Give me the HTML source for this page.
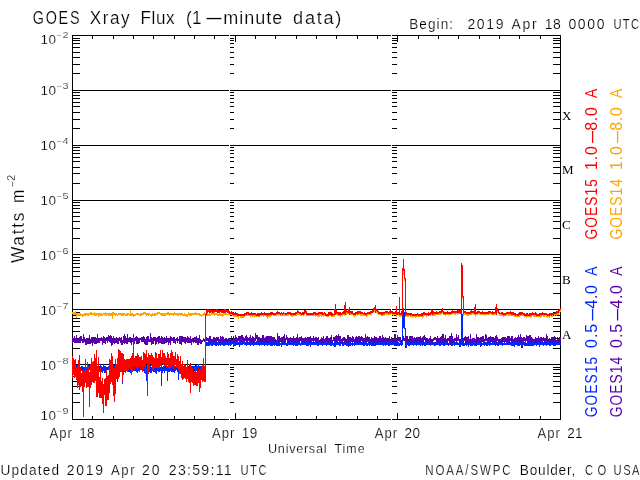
<!DOCTYPE html>
<html lang="en"><head><meta charset="utf-8"><title>GOES Xray Flux (1-minute data)</title>
<style>
html,body{margin:0;padding:0;background:#fff;}
body{width:640px;height:480px;overflow:hidden;}
svg{display:block;will-change:transform;}
text{font-family:"Liberation Sans",sans-serif;stroke:#fff;stroke-width:0.2px;paint-order:fill stroke;}
.ser{font-family:"Liberation Serif",serif;stroke:none;}
text[fill]{stroke:none;}
.ln{shape-rendering:crispEdges;fill:none;}
</style></head><body>
<svg width="640" height="480" viewBox="0 0 640 480">
<rect x="0" y="0" width="640" height="480" fill="#fff"/>
<path class="ln" stroke="#000" stroke-width="1" d="M72 35.5 H561 M72 419.5 H561 M72.5 35 V420 M560.5 35 V420 M72 73.5 H80 M553 73.5 H561 M230 73.5 H234 M392 73.5 H397 M72 64.5 H80 M553 64.5 H561 M230 64.5 H234 M392 64.5 H397 M72 57.5 H80 M553 57.5 H561 M230 57.5 H234 M392 57.5 H397 M72 52.5 H80 M553 52.5 H561 M230 52.5 H234 M392 52.5 H397 M72 47.5 H80 M553 47.5 H561 M230 47.5 H234 M392 47.5 H397 M72 43.5 H80 M553 43.5 H561 M230 43.5 H234 M392 43.5 H397 M72 40.5 H80 M553 40.5 H561 M230 40.5 H234 M392 40.5 H397 M72 38.5 H80 M553 38.5 H561 M230 38.5 H234 M392 38.5 H397 M72 90.5 H561 M72 128.5 H80 M553 128.5 H561 M230 128.5 H234 M392 128.5 H397 M72 119.5 H80 M553 119.5 H561 M230 119.5 H234 M392 119.5 H397 M72 112.5 H80 M553 112.5 H561 M230 112.5 H234 M392 112.5 H397 M72 106.5 H80 M553 106.5 H561 M230 106.5 H234 M392 106.5 H397 M72 102.5 H80 M553 102.5 H561 M230 102.5 H234 M392 102.5 H397 M72 98.5 H80 M553 98.5 H561 M230 98.5 H234 M392 98.5 H397 M72 95.5 H80 M553 95.5 H561 M230 95.5 H234 M392 95.5 H397 M72 92.5 H80 M553 92.5 H561 M230 92.5 H234 M392 92.5 H397 M72 145.5 H561 M72 183.5 H80 M553 183.5 H561 M230 183.5 H234 M392 183.5 H397 M72 173.5 H80 M553 173.5 H561 M230 173.5 H234 M392 173.5 H397 M72 167.5 H80 M553 167.5 H561 M230 167.5 H234 M392 167.5 H397 M72 161.5 H80 M553 161.5 H561 M230 161.5 H234 M392 161.5 H397 M72 157.5 H80 M553 157.5 H561 M230 157.5 H234 M392 157.5 H397 M72 153.5 H80 M553 153.5 H561 M230 153.5 H234 M392 153.5 H397 M72 150.5 H80 M553 150.5 H561 M230 150.5 H234 M392 150.5 H397 M72 147.5 H80 M553 147.5 H561 M230 147.5 H234 M392 147.5 H397 M72 200.5 H561 M72 238.5 H80 M553 238.5 H561 M230 238.5 H234 M392 238.5 H397 M72 228.5 H80 M553 228.5 H561 M230 228.5 H234 M392 228.5 H397 M72 221.5 H80 M553 221.5 H561 M230 221.5 H234 M392 221.5 H397 M72 216.5 H80 M553 216.5 H561 M230 216.5 H234 M392 216.5 H397 M72 212.5 H80 M553 212.5 H561 M230 212.5 H234 M392 212.5 H397 M72 208.5 H80 M553 208.5 H561 M230 208.5 H234 M392 208.5 H397 M72 205.5 H80 M553 205.5 H561 M230 205.5 H234 M392 205.5 H397 M72 202.5 H80 M553 202.5 H561 M230 202.5 H234 M392 202.5 H397 M72 254.5 H561 M72 293.5 H80 M553 293.5 H561 M230 293.5 H234 M392 293.5 H397 M72 283.5 H80 M553 283.5 H561 M230 283.5 H234 M392 283.5 H397 M72 276.5 H80 M553 276.5 H561 M230 276.5 H234 M392 276.5 H397 M72 271.5 H80 M553 271.5 H561 M230 271.5 H234 M392 271.5 H397 M72 267.5 H80 M553 267.5 H561 M230 267.5 H234 M392 267.5 H397 M72 263.5 H80 M553 263.5 H561 M230 263.5 H234 M392 263.5 H397 M72 260.5 H80 M553 260.5 H561 M230 260.5 H234 M392 260.5 H397 M72 257.5 H80 M553 257.5 H561 M230 257.5 H234 M392 257.5 H397 M72 309.5 H561 M72 348.5 H80 M553 348.5 H561 M230 348.5 H234 M392 348.5 H397 M72 338.5 H80 M553 338.5 H561 M230 338.5 H234 M392 338.5 H397 M72 331.5 H80 M553 331.5 H561 M230 331.5 H234 M392 331.5 H397 M72 326.5 H80 M553 326.5 H561 M230 326.5 H234 M392 326.5 H397 M72 321.5 H80 M553 321.5 H561 M230 321.5 H234 M392 321.5 H397 M72 318.5 H80 M553 318.5 H561 M230 318.5 H234 M392 318.5 H397 M72 315.5 H80 M553 315.5 H561 M230 315.5 H234 M392 315.5 H397 M72 312.5 H80 M553 312.5 H561 M230 312.5 H234 M392 312.5 H397 M72 364.5 H561 M72 402.5 H80 M553 402.5 H561 M230 402.5 H234 M392 402.5 H397 M72 393.5 H80 M553 393.5 H561 M230 393.5 H234 M392 393.5 H397 M72 386.5 H80 M553 386.5 H561 M230 386.5 H234 M392 386.5 H397 M72 381.5 H80 M553 381.5 H561 M230 381.5 H234 M392 381.5 H397 M72 376.5 H80 M553 376.5 H561 M230 376.5 H234 M392 376.5 H397 M72 373.5 H80 M553 373.5 H561 M230 373.5 H234 M392 373.5 H397 M72 369.5 H80 M553 369.5 H561 M230 369.5 H234 M392 369.5 H397 M72 367.5 H80 M553 367.5 H561 M230 367.5 H234 M392 367.5 H397 M92.5 35 V39 M92.5 416 V420 M113.5 35 V39 M113.5 416 V420 M133.5 35 V39 M133.5 416 V420 M153.5 35 V39 M153.5 416 V420 M174.5 35 V39 M174.5 416 V420 M194.5 35 V39 M194.5 416 V420 M214.5 35 V39 M214.5 416 V420 M255.5 35 V39 M255.5 416 V420 M275.5 35 V39 M275.5 416 V420 M296.5 35 V39 M296.5 416 V420 M316.5 35 V39 M316.5 416 V420 M336.5 35 V39 M336.5 416 V420 M357.5 35 V39 M357.5 416 V420 M377.5 35 V39 M377.5 416 V420 M418.5 35 V39 M418.5 416 V420 M438.5 35 V39 M438.5 416 V420 M458.5 35 V39 M458.5 416 V420 M479.5 35 V39 M479.5 416 V420 M499.5 35 V39 M499.5 416 V420 M519.5 35 V39 M519.5 416 V420 M540.5 35 V39 M540.5 416 V420 M235.5 35 V42 M235.5 413 V420 M397.5 35 V42 M397.5 413 V420"/>
<path class="ln" stroke="#fff" stroke-width="1" d="M229.5 35 V420 M391.5 35 V420"/>
<path class="ln" stroke="#ffa500" stroke-width="1" d="M72.5 312 V314 M73.5 312 V315 M74.5 312 V315 M75.5 311 V315 M76.5 313 V318 M77.5 313 V316 M78.5 314 V316 M79.5 313 V316 M80.5 313 V316 M81.5 314 V316 M82.5 314 V317 M83.5 314 V316 M84.5 313 V316 M85.5 313 V316 M86.5 313 V315 M87.5 313 V316 M88.5 313 V316 M89.5 313 V315 M90.5 312 V315 M91.5 312 V315 M92.5 313 V315 M93.5 313 V315 M94.5 312 V316 M95.5 313 V316 M96.5 313 V316 M97.5 313 V315 M98.5 313 V317 M99.5 313 V316 M100.5 313 V316 M101.5 313 V316 M102.5 314 V316 M103.5 313 V315 M104.5 313 V315 M105.5 312 V316 M106.5 313 V316 M107.5 313 V315 M108.5 313 V316 M109.5 313 V316 M110.5 313 V316 M111.5 313 V316 M112.5 312 V319 M113.5 312 V315 M114.5 313 V315 M115.5 313 V316 M116.5 313 V315 M117.5 314 V316 M118.5 313 V315 M119.5 313 V315 M120.5 313 V315 M121.5 313 V316 M122.5 313 V316 M123.5 313 V316 M124.5 313 V315 M125.5 314 V316 M126.5 313 V316 M127.5 313 V316 M128.5 313 V315 M129.5 314 V316 M130.5 310 V316 M131.5 313 V316 M132.5 313 V316 M133.5 314 V317 M134.5 314 V316 M135.5 314 V316 M136.5 313 V315 M137.5 313 V315 M138.5 313 V315 M139.5 314 V316 M140.5 313 V316 M141.5 313 V316 M142.5 313 V315 M143.5 312 V315 M144.5 312 V314 M145.5 312 V315 M146.5 313 V316 M147.5 313 V315 M148.5 313 V316 M149.5 313 V315 M150.5 314 V316 M151.5 314 V317 M152.5 313 V316 M153.5 314 V316 M154.5 313 V316 M155.5 313 V316 M156.5 313 V315 M157.5 312 V315 M158.5 312 V314 M159.5 312 V314 M160.5 313 V315 M161.5 313 V316 M162.5 313 V316 M163.5 313 V316 M164.5 313 V316 M165.5 313 V316 M166.5 313 V315 M167.5 312 V315 M168.5 312 V315 M169.5 313 V316 M170.5 313 V315 M171.5 313 V315 M172.5 313 V315 M173.5 313 V316 M174.5 312 V315 M175.5 313 V315 M176.5 313 V315 M177.5 313 V316 M178.5 313 V316 M179.5 313 V315 M180.5 313 V316 M181.5 313 V315 M182.5 313 V316 M183.5 314 V316 M184.5 313 V316 M185.5 314 V316 M186.5 314 V317 M187.5 314 V317 M188.5 312 V315 M189.5 313 V316 M190.5 313 V316 M191.5 313 V316 M192.5 313 V315 M193.5 313 V315 M194.5 313 V315 M195.5 312 V315 M196.5 313 V315 M197.5 313 V315 M198.5 313 V315 M199.5 313 V316 M200.5 314 V316 M201.5 315 V317 M202.5 314 V316 M203.5 313 V316 M204.5 312 V315 M205.5 313 V315 M206.5 313 V316 M207.5 313 V316 M208.5 314 V316 M209.5 313 V316 M210.5 314 V316 M211.5 312 V315 M212.5 312 V315 M213.5 312 V315 M214.5 312 V316 M215.5 313 V315 M216.5 313 V315 M217.5 313 V316 M218.5 314 V316 M219.5 313 V316 M220.5 313 V316 M221.5 314 V316 M222.5 314 V317 M223.5 313 V316 M224.5 313 V315 M225.5 313 V315 M226.5 313 V315 M227.5 314 V315 M228.5 313 V315 M229.5 313 V315 M230.5 312 V315 M231.5 313 V315 M232.5 313 V316 M233.5 314 V317 M234.5 314 V317 M235.5 314 V317 M236.5 314 V317 M237.5 314 V317 M238.5 315 V319 M239.5 315 V316 M240.5 315 V318 M241.5 315 V318 M242.5 315 V318 M243.5 315 V318 M244.5 315 V317 M245.5 314 V316 M246.5 313 V316 M247.5 313 V316 M248.5 314 V316 M249.5 314 V316 M250.5 314 V317 M251.5 314 V316 M252.5 314 V317 M253.5 314 V316 M254.5 314 V317 M255.5 315 V317 M256.5 315 V317 M257.5 315 V317 M258.5 314 V317 M259.5 314 V317 M260.5 314 V316 M261.5 313 V316 M262.5 314 V316 M263.5 314 V317 M264.5 314 V316 M265.5 314 V316 M266.5 315 V317 M267.5 315 V319 M268.5 314 V317 M269.5 314 V317 M270.5 314 V317 M271.5 313 V316 M272.5 313 V315 M273.5 313 V316 M274.5 314 V316 M275.5 314 V316 M276.5 313 V316 M277.5 313 V315 M278.5 314 V316 M279.5 313 V315 M280.5 314 V316 M281.5 313 V316 M282.5 314 V316 M283.5 314 V316 M284.5 314 V316 M285.5 313 V316 M286.5 313 V316 M287.5 313 V316 M288.5 314 V316 M289.5 313 V315 M290.5 313 V316 M291.5 314 V317 M292.5 314 V317 M293.5 314 V316 M294.5 313 V316 M295.5 314 V316 M296.5 313 V316 M297.5 312 V315 M298.5 312 V315 M299.5 313 V315 M300.5 313 V316 M301.5 314 V316 M302.5 313 V315 M303.5 313 V316 M304.5 312 V315 M305.5 312 V314 M306.5 313 V316 M307.5 314 V316 M308.5 314 V316 M309.5 313 V316 M310.5 314 V316 M311.5 314 V316 M312.5 314 V316 M313.5 314 V316 M314.5 313 V316 M315.5 313 V317 M316.5 314 V316 M317.5 314 V317 M318.5 313 V317 M319.5 314 V317 M320.5 313 V316 M321.5 314 V317 M322.5 314 V316 M323.5 314 V317 M324.5 313 V316 M325.5 313 V316 M326.5 314 V317 M327.5 315 V317 M328.5 313 V317 M329.5 313 V316 M330.5 313 V316 M331.5 314 V317 M332.5 315 V317 M333.5 314 V317 M334.5 311 V317 M335.5 306 V312 M336.5 311 V315 M337.5 314 V316 M338.5 314 V316 M339.5 314 V316 M340.5 314 V317 M341.5 314 V316 M342.5 313 V316 M343.5 313 V315 M344.5 306 V316 M345.5 304 V313 M346.5 312 V315 M347.5 312 V314 M348.5 310 V314 M349.5 309 V314 M350.5 312 V315 M351.5 312 V315 M352.5 313 V315 M353.5 314 V316 M354.5 314 V317 M355.5 314 V316 M356.5 312 V315 M357.5 312 V316 M358.5 312 V315 M359.5 312 V315 M360.5 313 V316 M361.5 314 V316 M362.5 313 V316 M363.5 314 V316 M364.5 314 V316 M365.5 314 V316 M366.5 314 V317 M367.5 314 V316 M368.5 313 V315 M369.5 313 V315 M370.5 313 V315 M371.5 312 V315 M372.5 311 V313 M373.5 310 V313 M374.5 309 V312 M375.5 307 V311 M376.5 309 V313 M377.5 311 V314 M378.5 312 V315 M379.5 313 V315 M380.5 313 V315 M381.5 314 V316 M382.5 313 V316 M383.5 313 V316 M384.5 313 V316 M385.5 312 V315 M386.5 312 V315 M387.5 312 V315 M388.5 313 V315 M389.5 313 V315 M390.5 312 V315 M391.5 312 V314 M392.5 313 V315 M393.5 313 V316 M394.5 313 V315 M395.5 312 V315 M396.5 308 V317 M397.5 313 V315 M398.5 313 V316 M399.5 299 V317 M400.5 314 V317 M401.5 314 V316 M402.5 271 V317 M403.5 262 V275 M404.5 272 V281 M405.5 280 V317 M406.5 314 V317 M407.5 314 V317 M408.5 314 V317 M409.5 314 V316 M410.5 315 V317 M411.5 314 V317 M412.5 314 V318 M413.5 315 V317 M414.5 314 V317 M415.5 315 V318 M416.5 315 V317 M417.5 314 V317 M418.5 315 V317 M419.5 315 V317 M420.5 315 V317 M421.5 314 V317 M422.5 314 V318 M423.5 314 V317 M424.5 314 V316 M425.5 314 V316 M426.5 314 V317 M427.5 314 V316 M428.5 314 V316 M429.5 314 V316 M430.5 313 V316 M431.5 310 V315 M432.5 311 V316 M433.5 313 V316 M434.5 313 V316 M435.5 313 V316 M436.5 313 V315 M437.5 312 V315 M438.5 312 V315 M439.5 312 V315 M440.5 312 V315 M441.5 311 V314 M442.5 309 V314 M443.5 313 V315 M444.5 313 V315 M445.5 313 V316 M446.5 313 V315 M447.5 313 V315 M448.5 313 V315 M449.5 314 V316 M450.5 313 V315 M451.5 312 V315 M452.5 312 V314 M453.5 312 V314 M454.5 312 V315 M455.5 312 V315 M456.5 312 V314 M457.5 312 V315 M458.5 311 V314 M459.5 312 V314 M460.5 311 V314 M461.5 266 V316 M462.5 267 V299 M463.5 298 V316 M464.5 312 V315 M465.5 312 V315 M466.5 313 V315 M467.5 313 V316 M468.5 313 V316 M469.5 312 V315 M470.5 313 V315 M471.5 312 V315 M472.5 312 V314 M473.5 311 V315 M474.5 312 V315 M475.5 306 V317 M476.5 313 V315 M477.5 312 V315 M478.5 312 V314 M479.5 312 V315 M480.5 312 V315 M481.5 313 V315 M482.5 312 V315 M483.5 312 V315 M484.5 313 V316 M485.5 313 V315 M486.5 313 V315 M487.5 313 V315 M488.5 312 V315 M489.5 312 V315 M490.5 312 V314 M491.5 313 V315 M492.5 312 V315 M493.5 313 V316 M494.5 313 V315 M495.5 309 V315 M496.5 306 V310 M497.5 309 V313 M498.5 310 V314 M499.5 313 V316 M500.5 313 V316 M501.5 313 V316 M502.5 313 V316 M503.5 314 V317 M504.5 314 V316 M505.5 314 V316 M506.5 313 V316 M507.5 313 V316 M508.5 313 V316 M509.5 313 V316 M510.5 313 V316 M511.5 313 V316 M512.5 314 V316 M513.5 314 V316 M514.5 314 V317 M515.5 314 V317 M516.5 315 V317 M517.5 314 V317 M518.5 314 V317 M519.5 314 V317 M520.5 314 V316 M521.5 313 V316 M522.5 313 V316 M523.5 313 V316 M524.5 315 V317 M525.5 315 V317 M526.5 315 V318 M527.5 314 V317 M528.5 314 V317 M529.5 314 V317 M530.5 315 V318 M531.5 314 V317 M532.5 314 V316 M533.5 314 V317 M534.5 313 V317 M535.5 314 V317 M536.5 314 V317 M537.5 314 V317 M538.5 315 V317 M539.5 314 V317 M540.5 314 V318 M541.5 314 V317 M542.5 314 V316 M543.5 314 V317 M544.5 314 V317 M545.5 314 V316 M546.5 315 V317 M547.5 315 V318 M548.5 315 V317 M549.5 314 V318 M550.5 314 V316 M551.5 314 V317 M552.5 314 V317 M553.5 314 V316 M554.5 314 V316 M555.5 313 V315 M556.5 313 V316 M557.5 312 V315 M558.5 311 V315 M559.5 310 V313 M560.5 309 V312"/>
<path class="ln" stroke="#5a00aa" stroke-width="1" d="M72.5 338 V343 M73.5 338 V342 M74.5 336 V343 M75.5 338 V343 M76.5 335 V343 M77.5 339 V343 M78.5 338 V343 M79.5 337 V343 M80.5 336 V343 M81.5 336 V341 M82.5 339 V343 M83.5 334 V343 M84.5 337 V342 M85.5 339 V345 M86.5 338 V345 M87.5 338 V344 M88.5 338 V344 M89.5 335 V344 M90.5 339 V344 M91.5 337 V343 M92.5 337 V346 M93.5 337 V343 M94.5 337 V344 M95.5 337 V344 M96.5 338 V344 M97.5 334 V343 M98.5 338 V343 M99.5 338 V343 M100.5 338 V341 M101.5 337 V341 M102.5 338 V345 M103.5 336 V343 M104.5 337 V343 M105.5 338 V344 M106.5 337 V341 M107.5 337 V343 M108.5 335 V341 M109.5 336 V342 M110.5 335 V343 M111.5 336 V346 M112.5 338 V345 M113.5 336 V343 M114.5 338 V344 M115.5 338 V343 M116.5 337 V343 M117.5 338 V344 M118.5 338 V344 M119.5 337 V341 M120.5 338 V343 M121.5 337 V345 M122.5 340 V345 M123.5 336 V343 M124.5 334 V344 M125.5 336 V343 M126.5 338 V344 M127.5 334 V344 M128.5 338 V342 M129.5 337 V342 M130.5 337 V343 M131.5 338 V345 M132.5 338 V342 M133.5 334 V343 M134.5 338 V344 M135.5 337 V341 M136.5 336 V344 M137.5 337 V344 M138.5 338 V344 M139.5 338 V343 M140.5 338 V340 M141.5 337 V342 M142.5 337 V342 M143.5 336 V342 M144.5 337 V344 M145.5 339 V345 M146.5 337 V345 M147.5 336 V345 M148.5 336 V342 M149.5 339 V342 M150.5 333 V342 M151.5 337 V345 M152.5 338 V344 M153.5 337 V344 M154.5 337 V341 M155.5 337 V345 M156.5 338 V344 M157.5 337 V342 M158.5 336 V344 M159.5 336 V343 M160.5 338 V343 M161.5 336 V344 M162.5 337 V344 M163.5 338 V344 M164.5 337 V344 M165.5 338 V343 M166.5 336 V343 M167.5 338 V342 M168.5 338 V345 M169.5 338 V343 M170.5 336 V345 M171.5 337 V341 M172.5 338 V341 M173.5 337 V343 M174.5 337 V343 M175.5 339 V344 M176.5 338 V341 M177.5 337 V343 M178.5 339 V341 M179.5 336 V344 M180.5 336 V344 M181.5 336 V345 M182.5 336 V342 M183.5 337 V342 M184.5 337 V343 M185.5 337 V344 M186.5 338 V342 M187.5 336 V343 M188.5 337 V343 M189.5 338 V343 M190.5 336 V343 M191.5 339 V345 M192.5 338 V342 M193.5 338 V343 M194.5 337 V342 M195.5 337 V343 M196.5 336 V343 M197.5 338 V345 M198.5 338 V345 M199.5 335 V343 M200.5 339 V344 M201.5 340 V344 M202.5 340 V342 M203.5 338 V341 M204.5 339 V342 M205.5 336 V343 M206.5 337 V341 M207.5 338 V341 M208.5 338 V344 M209.5 336 V342 M210.5 336 V342 M211.5 339 V345 M212.5 339 V344 M213.5 337 V344 M214.5 337 V342 M215.5 338 V343 M216.5 337 V343 M217.5 337 V341 M218.5 337 V345 M219.5 339 V345 M220.5 336 V344 M221.5 337 V342 M222.5 336 V342 M223.5 337 V342 M224.5 339 V344 M225.5 338 V344 M226.5 338 V345 M227.5 339 V342 M228.5 338 V343 M229.5 338 V345 M230.5 339 V345 M231.5 336 V342 M232.5 339 V344 M233.5 336 V344 M234.5 338 V344 M235.5 335 V342 M236.5 337 V344 M237.5 338 V343 M238.5 336 V341 M239.5 336 V347 M240.5 336 V342 M241.5 335 V343 M242.5 335 V343 M243.5 337 V342 M244.5 338 V343 M245.5 336 V341 M246.5 335 V342 M247.5 337 V342 M248.5 338 V341 M249.5 337 V343 M250.5 335 V345 M251.5 338 V345 M252.5 336 V343 M253.5 337 V343 M254.5 338 V343 M255.5 333 V341 M256.5 335 V339 M257.5 335 V342 M258.5 337 V343 M259.5 337 V344 M260.5 338 V344 M261.5 338 V344 M262.5 335 V343 M263.5 335 V344 M264.5 338 V342 M265.5 337 V343 M266.5 336 V343 M267.5 336 V345 M268.5 336 V345 M269.5 336 V343 M270.5 336 V343 M271.5 336 V343 M272.5 337 V344 M273.5 337 V343 M274.5 337 V342 M275.5 339 V344 M276.5 340 V344 M277.5 333 V342 M278.5 336 V344 M279.5 336 V342 M280.5 338 V342 M281.5 337 V345 M282.5 337 V345 M283.5 336 V342 M284.5 334 V343 M285.5 338 V343 M286.5 335 V340 M287.5 337 V344 M288.5 338 V343 M289.5 338 V343 M290.5 337 V344 M291.5 338 V344 M292.5 338 V342 M293.5 336 V343 M294.5 338 V343 M295.5 338 V343 M296.5 337 V345 M297.5 334 V343 M298.5 338 V343 M299.5 337 V343 M300.5 337 V341 M301.5 336 V344 M302.5 338 V343 M303.5 338 V344 M304.5 338 V342 M305.5 337 V342 M306.5 338 V344 M307.5 337 V342 M308.5 337 V344 M309.5 337 V344 M310.5 336 V347 M311.5 338 V343 M312.5 338 V341 M313.5 336 V344 M314.5 338 V341 M315.5 337 V344 M316.5 337 V342 M317.5 338 V342 M318.5 337 V343 M319.5 340 V343 M320.5 339 V345 M321.5 337 V345 M322.5 338 V345 M323.5 336 V344 M324.5 339 V342 M325.5 338 V342 M326.5 336 V343 M327.5 336 V344 M328.5 338 V344 M329.5 338 V344 M330.5 337 V343 M331.5 335 V343 M332.5 340 V344 M333.5 337 V341 M334.5 337 V342 M335.5 336 V344 M336.5 335 V345 M337.5 336 V343 M338.5 334 V341 M339.5 336 V345 M340.5 336 V345 M341.5 339 V344 M342.5 338 V345 M343.5 337 V341 M344.5 337 V343 M345.5 338 V342 M346.5 339 V344 M347.5 335 V343 M348.5 335 V347 M349.5 337 V345 M350.5 337 V344 M351.5 338 V342 M352.5 336 V342 M353.5 337 V342 M354.5 339 V342 M355.5 337 V343 M356.5 336 V344 M357.5 337 V343 M358.5 336 V342 M359.5 336 V342 M360.5 337 V343 M361.5 336 V341 M362.5 337 V342 M363.5 338 V344 M364.5 338 V344 M365.5 334 V344 M366.5 337 V344 M367.5 336 V342 M368.5 337 V344 M369.5 337 V344 M370.5 339 V344 M371.5 337 V344 M372.5 338 V345 M373.5 338 V345 M374.5 336 V344 M375.5 337 V345 M376.5 337 V342 M377.5 338 V342 M378.5 338 V343 M379.5 336 V344 M380.5 336 V342 M381.5 338 V342 M382.5 335 V343 M383.5 337 V346 M384.5 338 V344 M385.5 337 V343 M386.5 338 V343 M387.5 338 V344 M388.5 338 V342 M389.5 336 V342 M390.5 339 V343 M391.5 337 V344 M392.5 339 V344 M393.5 338 V342 M394.5 334 V343 M395.5 334 V346 M396.5 339 V346 M397.5 335 V342 M398.5 337 V341 M399.5 337 V342 M400.5 337 V344 M401.5 340 V343 M402.5 339 V344 M403.5 336 V341 M404.5 338 V341 M405.5 338 V342 M406.5 336 V345 M407.5 336 V342 M408.5 339 V344 M409.5 336 V342 M410.5 336 V342 M411.5 336 V344 M412.5 336 V342 M413.5 338 V343 M414.5 337 V345 M415.5 338 V345 M416.5 337 V342 M417.5 337 V344 M418.5 337 V342 M419.5 337 V342 M420.5 336 V343 M421.5 338 V343 M422.5 337 V346 M423.5 336 V344 M424.5 335 V340 M425.5 337 V345 M426.5 338 V343 M427.5 338 V343 M428.5 339 V343 M429.5 338 V344 M430.5 336 V345 M431.5 339 V342 M432.5 339 V344 M433.5 338 V341 M434.5 337 V340 M435.5 337 V340 M436.5 338 V343 M437.5 336 V343 M438.5 338 V344 M439.5 338 V344 M440.5 337 V344 M441.5 336 V345 M442.5 334 V343 M443.5 334 V346 M444.5 338 V342 M445.5 335 V344 M446.5 339 V344 M447.5 338 V344 M448.5 338 V341 M449.5 336 V344 M450.5 336 V345 M451.5 333 V342 M452.5 336 V344 M453.5 339 V344 M454.5 338 V342 M455.5 338 V341 M456.5 334 V344 M457.5 337 V341 M458.5 335 V341 M459.5 339 V343 M460.5 339 V343 M461.5 338 V343 M462.5 335 V343 M463.5 338 V343 M464.5 337 V341 M465.5 336 V343 M466.5 337 V343 M467.5 337 V344 M468.5 336 V343 M469.5 339 V343 M470.5 334 V343 M471.5 339 V343 M472.5 338 V342 M473.5 338 V344 M474.5 338 V344 M475.5 339 V343 M476.5 334 V343 M477.5 337 V345 M478.5 337 V342 M479.5 338 V345 M480.5 337 V347 M481.5 337 V343 M482.5 336 V342 M483.5 336 V343 M484.5 339 V343 M485.5 334 V341 M486.5 335 V341 M487.5 338 V342 M488.5 337 V343 M489.5 337 V342 M490.5 336 V344 M491.5 337 V342 M492.5 337 V344 M493.5 337 V344 M494.5 338 V344 M495.5 336 V344 M496.5 335 V343 M497.5 337 V341 M498.5 339 V344 M499.5 339 V343 M500.5 339 V343 M501.5 338 V342 M502.5 337 V344 M503.5 337 V342 M504.5 337 V344 M505.5 337 V342 M506.5 338 V344 M507.5 336 V344 M508.5 336 V344 M509.5 336 V344 M510.5 338 V341 M511.5 336 V342 M512.5 336 V341 M513.5 339 V343 M514.5 338 V343 M515.5 337 V344 M516.5 338 V344 M517.5 337 V344 M518.5 335 V344 M519.5 337 V346 M520.5 334 V344 M521.5 337 V348 M522.5 338 V348 M523.5 337 V343 M524.5 337 V341 M525.5 338 V343 M526.5 335 V341 M527.5 336 V344 M528.5 336 V342 M529.5 335 V343 M530.5 335 V341 M531.5 337 V346 M532.5 338 V345 M533.5 339 V345 M534.5 339 V344 M535.5 337 V344 M536.5 338 V342 M537.5 338 V342 M538.5 336 V344 M539.5 338 V342 M540.5 337 V345 M541.5 337 V344 M542.5 338 V342 M543.5 337 V341 M544.5 338 V345 M545.5 338 V344 M546.5 334 V342 M547.5 336 V342 M548.5 339 V342 M549.5 338 V342 M550.5 339 V342 M551.5 337 V342 M552.5 337 V343 M553.5 337 V342 M554.5 336 V345 M555.5 337 V343 M556.5 340 V343 M557.5 337 V343 M558.5 339 V345 M559.5 337 V343 M560.5 337 V342"/>
<path class="ln" stroke="#0028ff" stroke-width="1" d="M72.5 366 V373 M73.5 364 V371 M74.5 366 V372 M75.5 366 V371 M76.5 365 V373 M77.5 366 V373 M78.5 365 V372 M79.5 365 V371 M80.5 367 V372 M81.5 366 V371 M82.5 366 V372 M83.5 367 V372 M84.5 367 V372 M85.5 365 V372 M86.5 367 V371 M87.5 367 V372 M88.5 365 V385 M89.5 365 V370 M90.5 366 V372 M91.5 367 V375 M92.5 366 V372 M93.5 365 V371 M94.5 366 V371 M95.5 367 V373 M96.5 364 V373 M97.5 366 V372 M98.5 366 V373 M99.5 366 V372 M100.5 364 V372 M101.5 366 V372 M102.5 367 V373 M103.5 364 V371 M104.5 366 V373 M105.5 366 V373 M106.5 367 V373 M107.5 367 V370 M108.5 366 V370 M109.5 367 V371 M110.5 366 V371 M111.5 365 V371 M112.5 366 V373 M113.5 365 V373 M114.5 365 V372 M115.5 367 V372 M116.5 365 V372 M117.5 366 V382 M118.5 367 V373 M119.5 366 V370 M120.5 366 V372 M121.5 366 V371 M122.5 366 V384 M123.5 366 V373 M124.5 365 V372 M125.5 366 V372 M126.5 364 V371 M127.5 364 V369 M128.5 366 V372 M129.5 366 V372 M130.5 366 V373 M131.5 368 V373 M132.5 367 V372 M133.5 366 V371 M134.5 365 V371 M135.5 365 V371 M136.5 364 V372 M137.5 365 V373 M138.5 364 V371 M139.5 366 V372 M140.5 366 V370 M141.5 366 V370 M142.5 366 V369 M143.5 366 V371 M144.5 366 V373 M145.5 365 V372 M146.5 365 V381 M147.5 363 V371 M148.5 366 V372 M149.5 367 V372 M150.5 365 V373 M151.5 367 V373 M152.5 366 V371 M153.5 367 V372 M154.5 365 V372 M155.5 365 V373 M156.5 366 V374 M157.5 366 V371 M158.5 366 V372 M159.5 365 V372 M160.5 367 V371 M161.5 365 V386 M162.5 367 V373 M163.5 366 V371 M164.5 366 V373 M165.5 365 V371 M166.5 366 V371 M167.5 366 V381 M168.5 365 V372 M169.5 366 V372 M170.5 366 V371 M171.5 365 V372 M172.5 365 V372 M173.5 366 V372 M174.5 366 V373 M175.5 366 V371 M176.5 366 V370 M177.5 366 V372 M178.5 366 V380 M179.5 365 V372 M180.5 365 V371 M181.5 365 V372 M182.5 365 V371 M183.5 366 V374 M184.5 365 V372 M185.5 365 V372 M186.5 367 V372 M187.5 364 V371 M188.5 368 V371 M189.5 364 V370 M190.5 366 V372 M191.5 366 V371 M192.5 366 V372 M193.5 366 V373 M194.5 366 V371 M195.5 365 V371 M196.5 365 V371 M197.5 366 V372 M198.5 364 V372 M199.5 366 V374 M200.5 366 V372 M201.5 366 V372 M202.5 366 V372 M203.5 366 V374 M204.5 367 V373 M205.5 345 V372 M206.5 342 V346 M207.5 342 V346 M208.5 342 V346 M209.5 342 V346 M210.5 342 V345 M211.5 341 V346 M212.5 342 V346 M213.5 342 V345 M214.5 342 V345 M215.5 342 V346 M216.5 342 V346 M217.5 342 V345 M218.5 343 V346 M219.5 342 V344 M220.5 341 V346 M221.5 342 V345 M222.5 342 V345 M223.5 342 V346 M224.5 342 V346 M225.5 342 V345 M226.5 342 V345 M227.5 342 V345 M228.5 342 V346 M229.5 342 V345 M230.5 342 V346 M231.5 342 V345 M232.5 340 V344 M233.5 342 V347 M234.5 342 V346 M235.5 342 V346 M236.5 342 V345 M237.5 342 V345 M238.5 342 V345 M239.5 342 V345 M240.5 342 V345 M241.5 342 V345 M242.5 341 V345 M243.5 341 V344 M244.5 341 V345 M245.5 342 V345 M246.5 342 V346 M247.5 342 V345 M248.5 342 V345 M249.5 342 V345 M250.5 342 V346 M251.5 342 V345 M252.5 343 V345 M253.5 343 V346 M254.5 342 V345 M255.5 342 V345 M256.5 341 V345 M257.5 342 V345 M258.5 342 V345 M259.5 341 V346 M260.5 342 V345 M261.5 342 V345 M262.5 341 V345 M263.5 342 V345 M264.5 342 V346 M265.5 342 V345 M266.5 342 V345 M267.5 343 V346 M268.5 342 V345 M269.5 342 V345 M270.5 342 V346 M271.5 341 V346 M272.5 341 V346 M273.5 342 V345 M274.5 341 V346 M275.5 342 V345 M276.5 342 V346 M277.5 341 V346 M278.5 342 V346 M279.5 342 V346 M280.5 343 V345 M281.5 341 V347 M282.5 342 V345 M283.5 342 V345 M284.5 342 V345 M285.5 342 V345 M286.5 343 V346 M287.5 341 V346 M288.5 342 V345 M289.5 342 V345 M290.5 342 V345 M291.5 342 V345 M292.5 341 V345 M293.5 342 V346 M294.5 342 V345 M295.5 342 V346 M296.5 341 V346 M297.5 341 V346 M298.5 342 V345 M299.5 342 V345 M300.5 343 V346 M301.5 342 V345 M302.5 342 V345 M303.5 342 V345 M304.5 342 V345 M305.5 342 V345 M306.5 342 V346 M307.5 342 V346 M308.5 342 V346 M309.5 343 V345 M310.5 342 V345 M311.5 342 V345 M312.5 342 V345 M313.5 342 V345 M314.5 342 V345 M315.5 343 V345 M316.5 342 V345 M317.5 342 V346 M318.5 342 V346 M319.5 342 V345 M320.5 342 V345 M321.5 342 V345 M322.5 343 V346 M323.5 342 V345 M324.5 342 V345 M325.5 342 V345 M326.5 342 V346 M327.5 342 V345 M328.5 343 V345 M329.5 342 V345 M330.5 342 V346 M331.5 342 V346 M332.5 342 V345 M333.5 343 V346 M334.5 342 V347 M335.5 342 V347 M336.5 342 V345 M337.5 342 V345 M338.5 342 V345 M339.5 342 V346 M340.5 341 V346 M341.5 341 V344 M342.5 342 V346 M343.5 342 V346 M344.5 343 V345 M345.5 342 V345 M346.5 343 V346 M347.5 342 V346 M348.5 342 V346 M349.5 342 V346 M350.5 342 V346 M351.5 343 V345 M352.5 342 V346 M353.5 343 V345 M354.5 342 V346 M355.5 342 V345 M356.5 342 V345 M357.5 343 V345 M358.5 341 V345 M359.5 342 V345 M360.5 342 V345 M361.5 342 V345 M362.5 341 V345 M363.5 342 V346 M364.5 342 V346 M365.5 342 V345 M366.5 342 V346 M367.5 343 V346 M368.5 342 V345 M369.5 341 V346 M370.5 341 V345 M371.5 342 V346 M372.5 342 V346 M373.5 343 V346 M374.5 343 V346 M375.5 342 V346 M376.5 342 V345 M377.5 342 V345 M378.5 342 V345 M379.5 343 V345 M380.5 342 V345 M381.5 342 V345 M382.5 342 V345 M383.5 342 V346 M384.5 341 V345 M385.5 343 V346 M386.5 342 V345 M387.5 341 V345 M388.5 341 V346 M389.5 342 V346 M390.5 342 V345 M391.5 341 V345 M392.5 342 V345 M393.5 342 V345 M394.5 343 V346 M395.5 342 V345 M396.5 342 V346 M397.5 341 V346 M398.5 342 V346 M399.5 343 V346 M400.5 342 V345 M401.5 342 V346 M402.5 310 V345 M403.5 308 V328 M404.5 312 V329 M405.5 328 V348 M406.5 343 V348 M407.5 342 V345 M408.5 342 V346 M409.5 342 V346 M410.5 341 V345 M411.5 343 V345 M412.5 342 V345 M413.5 341 V346 M414.5 342 V345 M415.5 342 V345 M416.5 342 V346 M417.5 342 V345 M418.5 341 V345 M419.5 342 V345 M420.5 342 V346 M421.5 343 V345 M422.5 341 V345 M423.5 342 V345 M424.5 342 V346 M425.5 341 V346 M426.5 342 V345 M427.5 342 V345 M428.5 342 V345 M429.5 342 V345 M430.5 343 V346 M431.5 342 V345 M432.5 343 V345 M433.5 342 V345 M434.5 342 V346 M435.5 342 V346 M436.5 342 V345 M437.5 342 V345 M438.5 343 V345 M439.5 342 V346 M440.5 342 V346 M441.5 341 V345 M442.5 341 V345 M443.5 343 V346 M444.5 342 V346 M445.5 342 V345 M446.5 342 V345 M447.5 341 V345 M448.5 343 V346 M449.5 342 V345 M450.5 343 V344 M451.5 342 V346 M452.5 342 V346 M453.5 342 V345 M454.5 342 V346 M455.5 342 V345 M456.5 342 V345 M457.5 342 V345 M458.5 343 V345 M459.5 343 V347 M460.5 342 V347 M461.5 311 V345 M462.5 314 V346 M463.5 342 V346 M464.5 343 V346 M465.5 343 V345 M466.5 343 V346 M467.5 343 V345 M468.5 342 V347 M469.5 342 V345 M470.5 343 V346 M471.5 342 V346 M472.5 342 V346 M473.5 342 V345 M474.5 342 V346 M475.5 342 V346 M476.5 343 V346 M477.5 342 V345 M478.5 342 V345 M479.5 342 V345 M480.5 342 V345 M481.5 342 V346 M482.5 343 V345 M483.5 342 V345 M484.5 342 V346 M485.5 342 V345 M486.5 342 V346 M487.5 341 V346 M488.5 342 V345 M489.5 342 V346 M490.5 342 V345 M491.5 343 V345 M492.5 342 V345 M493.5 342 V345 M494.5 342 V345 M495.5 342 V346 M496.5 343 V345 M497.5 342 V346 M498.5 342 V346 M499.5 343 V345 M500.5 342 V345 M501.5 342 V345 M502.5 342 V346 M503.5 343 V345 M504.5 343 V345 M505.5 343 V345 M506.5 342 V345 M507.5 343 V345 M508.5 343 V345 M509.5 343 V345 M510.5 342 V345 M511.5 342 V346 M512.5 341 V346 M513.5 342 V346 M514.5 342 V347 M515.5 341 V345 M516.5 342 V345 M517.5 342 V346 M518.5 342 V346 M519.5 342 V345 M520.5 342 V345 M521.5 342 V345 M522.5 343 V346 M523.5 342 V345 M524.5 342 V346 M525.5 342 V346 M526.5 343 V346 M527.5 342 V346 M528.5 341 V346 M529.5 343 V346 M530.5 341 V346 M531.5 342 V345 M532.5 342 V346 M533.5 341 V346 M534.5 341 V345 M535.5 342 V345 M536.5 342 V346 M537.5 342 V345 M538.5 342 V345 M539.5 342 V347 M540.5 342 V345 M541.5 342 V345 M542.5 342 V345 M543.5 342 V346 M544.5 342 V345 M545.5 343 V345 M546.5 342 V346 M547.5 341 V345 M548.5 342 V345 M549.5 342 V346 M550.5 342 V346 M551.5 342 V345 M552.5 342 V345 M553.5 342 V346 M554.5 342 V346 M555.5 342 V346 M556.5 342 V345 M557.5 342 V345 M558.5 343 V345 M559.5 342 V345 M560.5 343 V345"/>
<path class="ln" stroke="#ff0000" stroke-width="1" d="M72.5 356 V378 M73.5 358 V375 M74.5 360 V378 M75.5 359 V377 M76.5 368 V380 M77.5 365 V388 M78.5 360 V385 M79.5 355 V390 M80.5 368 V387 M81.5 373 V386 M82.5 370 V392 M83.5 370 V417 M84.5 371 V387 M85.5 359 V383 M86.5 370 V388 M87.5 362 V387 M88.5 367 V387 M89.5 372 V407 M90.5 364 V388 M91.5 358 V385 M92.5 362 V382 M93.5 361 V383 M94.5 354 V383 M95.5 358 V381 M96.5 350 V397 M97.5 367 V397 M98.5 357 V393 M99.5 377 V398 M100.5 367 V398 M101.5 381 V398 M102.5 378 V404 M103.5 384 V413 M104.5 379 V395 M105.5 378 V406 M106.5 370 V406 M107.5 376 V400 M108.5 375 V400 M109.5 359 V393 M110.5 360 V384 M111.5 353 V382 M112.5 356 V385 M113.5 368 V396 M114.5 368 V402 M115.5 359 V394 M116.5 364 V379 M117.5 358 V375 M118.5 349 V379 M119.5 350 V377 M120.5 351 V372 M121.5 353 V372 M122.5 353 V381 M123.5 354 V375 M124.5 359 V371 M125.5 360 V373 M126.5 359 V371 M127.5 359 V372 M128.5 359 V370 M129.5 359 V368 M130.5 358 V370 M131.5 356 V375 M132.5 353 V372 M133.5 337 V367 M134.5 358 V370 M135.5 356 V367 M136.5 356 V368 M137.5 353 V370 M138.5 355 V367 M139.5 357 V368 M140.5 357 V370 M141.5 356 V366 M142.5 360 V372 M143.5 352 V369 M144.5 353 V367 M145.5 354 V374 M146.5 350 V364 M147.5 357 V396 M148.5 353 V374 M149.5 355 V369 M150.5 355 V364 M151.5 353 V366 M152.5 355 V370 M153.5 357 V370 M154.5 358 V368 M155.5 352 V368 M156.5 353 V368 M157.5 358 V368 M158.5 354 V367 M159.5 354 V368 M160.5 350 V366 M161.5 357 V366 M162.5 350 V364 M163.5 353 V365 M164.5 353 V366 M165.5 356 V366 M166.5 358 V368 M167.5 352 V364 M168.5 354 V368 M169.5 358 V369 M170.5 353 V368 M171.5 350 V368 M172.5 352 V365 M173.5 356 V367 M174.5 356 V369 M175.5 352 V365 M176.5 359 V368 M177.5 354 V368 M178.5 356 V370 M179.5 361 V374 M180.5 356 V374 M181.5 364 V378 M182.5 361 V380 M183.5 367 V379 M184.5 364 V378 M185.5 366 V379 M186.5 367 V382 M187.5 360 V379 M188.5 366 V382 M189.5 370 V383 M190.5 363 V393 M191.5 367 V382 M192.5 368 V383 M193.5 373 V386 M194.5 371 V385 M195.5 367 V385 M196.5 372 V386 M197.5 372 V386 M198.5 367 V383 M199.5 370 V392 M200.5 369 V388 M201.5 366 V380 M202.5 365 V382 M203.5 358 V381 M204.5 366 V382 M205.5 314 V382 M206.5 310 V315 M207.5 309 V313 M208.5 309 V312 M209.5 310 V313 M210.5 309 V313 M211.5 310 V312 M212.5 310 V313 M213.5 310 V313 M214.5 309 V312 M215.5 310 V312 M216.5 309 V312 M217.5 309 V313 M218.5 310 V313 M219.5 310 V313 M220.5 310 V312 M221.5 310 V313 M222.5 310 V313 M223.5 310 V313 M224.5 309 V313 M225.5 309 V313 M226.5 310 V312 M227.5 310 V313 M228.5 310 V313 M229.5 311 V314 M230.5 312 V314 M231.5 311 V314 M232.5 312 V315 M233.5 313 V315 M234.5 313 V315 M235.5 312 V315 M236.5 313 V315 M237.5 313 V316 M238.5 314 V316 M239.5 314 V316 M240.5 314 V316 M241.5 314 V316 M242.5 314 V316 M243.5 314 V316 M244.5 313 V316 M245.5 313 V315 M246.5 312 V315 M247.5 312 V314 M248.5 312 V315 M249.5 313 V315 M250.5 313 V315 M251.5 312 V315 M252.5 313 V315 M253.5 313 V315 M254.5 313 V315 M255.5 313 V315 M256.5 314 V316 M257.5 313 V316 M258.5 313 V316 M259.5 313 V316 M260.5 313 V315 M261.5 312 V315 M262.5 313 V315 M263.5 313 V315 M264.5 312 V315 M265.5 313 V315 M266.5 313 V315 M267.5 313 V316 M268.5 313 V315 M269.5 313 V315 M270.5 312 V315 M271.5 312 V315 M272.5 312 V315 M273.5 313 V315 M274.5 313 V315 M275.5 313 V315 M276.5 312 V314 M277.5 311 V314 M278.5 312 V314 M279.5 312 V314 M280.5 313 V315 M281.5 312 V314 M282.5 313 V315 M283.5 312 V314 M284.5 313 V314 M285.5 313 V315 M286.5 313 V315 M287.5 312 V314 M288.5 312 V314 M289.5 312 V314 M290.5 312 V315 M291.5 313 V315 M292.5 313 V315 M293.5 313 V315 M294.5 313 V315 M295.5 312 V315 M296.5 312 V314 M297.5 310 V313 M298.5 311 V313 M299.5 312 V314 M300.5 312 V314 M301.5 313 V315 M302.5 312 V315 M303.5 312 V315 M304.5 310 V314 M305.5 310 V313 M306.5 311 V315 M307.5 313 V315 M308.5 313 V315 M309.5 313 V315 M310.5 313 V315 M311.5 313 V315 M312.5 313 V315 M313.5 312 V315 M314.5 312 V314 M315.5 312 V315 M316.5 313 V315 M317.5 313 V315 M318.5 312 V315 M319.5 312 V314 M320.5 312 V314 M321.5 312 V314 M322.5 312 V315 M323.5 313 V315 M324.5 312 V314 M325.5 313 V316 M326.5 314 V316 M327.5 314 V316 M328.5 312 V316 M329.5 312 V315 M330.5 312 V315 M331.5 312 V316 M332.5 313 V316 M333.5 314 V315 M334.5 309 V315 M335.5 304 V315 M336.5 310 V314 M337.5 312 V314 M338.5 312 V315 M339.5 312 V315 M340.5 312 V315 M341.5 313 V315 M342.5 312 V314 M343.5 311 V314 M344.5 305 V314 M345.5 302 V315 M346.5 310 V312 M347.5 311 V313 M348.5 309 V313 M349.5 307 V315 M350.5 311 V313 M351.5 311 V314 M352.5 311 V314 M353.5 313 V315 M354.5 313 V315 M355.5 312 V315 M356.5 312 V314 M357.5 311 V314 M358.5 311 V314 M359.5 311 V313 M360.5 311 V314 M361.5 312 V314 M362.5 312 V314 M363.5 313 V314 M364.5 312 V315 M365.5 313 V315 M366.5 313 V315 M367.5 312 V314 M368.5 312 V314 M369.5 312 V314 M370.5 311 V314 M371.5 311 V313 M372.5 310 V313 M373.5 308 V312 M374.5 307 V310 M375.5 305 V313 M376.5 309 V311 M377.5 310 V312 M378.5 311 V314 M379.5 312 V314 M380.5 312 V314 M381.5 312 V315 M382.5 312 V315 M383.5 312 V314 M384.5 312 V314 M385.5 311 V313 M386.5 311 V313 M387.5 311 V313 M388.5 312 V314 M389.5 311 V313 M390.5 310 V314 M391.5 311 V313 M392.5 311 V314 M393.5 312 V314 M394.5 312 V314 M395.5 311 V314 M396.5 306 V315 M397.5 312 V315 M398.5 312 V314 M399.5 297 V315 M400.5 313 V315 M401.5 311 V315 M402.5 268 V315 M403.5 259 V271 M404.5 269 V279 M405.5 278 V316 M406.5 312 V315 M407.5 313 V315 M408.5 313 V315 M409.5 313 V315 M410.5 313 V316 M411.5 313 V315 M412.5 314 V316 M413.5 314 V316 M414.5 314 V316 M415.5 314 V316 M416.5 314 V316 M417.5 313 V315 M418.5 314 V316 M419.5 314 V316 M420.5 314 V316 M421.5 313 V316 M422.5 313 V316 M423.5 312 V315 M424.5 312 V315 M425.5 313 V315 M426.5 313 V315 M427.5 313 V315 M428.5 312 V316 M429.5 313 V315 M430.5 312 V315 M431.5 309 V314 M432.5 310 V315 M433.5 311 V314 M434.5 312 V314 M435.5 312 V314 M436.5 311 V314 M437.5 312 V314 M438.5 312 V314 M439.5 311 V313 M440.5 311 V313 M441.5 310 V313 M442.5 308 V312 M443.5 311 V314 M444.5 312 V314 M445.5 312 V314 M446.5 312 V314 M447.5 311 V314 M448.5 312 V314 M449.5 312 V314 M450.5 312 V314 M451.5 311 V314 M452.5 310 V313 M453.5 311 V313 M454.5 311 V313 M455.5 311 V313 M456.5 311 V313 M457.5 310 V313 M458.5 310 V313 M459.5 310 V313 M460.5 310 V314 M461.5 263 V314 M462.5 265 V297 M463.5 296 V314 M464.5 311 V313 M465.5 311 V313 M466.5 312 V314 M467.5 312 V314 M468.5 312 V314 M469.5 312 V314 M470.5 311 V314 M471.5 310 V313 M472.5 311 V313 M473.5 311 V313 M474.5 307 V314 M475.5 304 V314 M476.5 312 V314 M477.5 311 V314 M478.5 311 V313 M479.5 311 V313 M480.5 312 V314 M481.5 312 V314 M482.5 311 V314 M483.5 312 V314 M484.5 312 V314 M485.5 312 V314 M486.5 312 V314 M487.5 312 V314 M488.5 311 V314 M489.5 311 V313 M490.5 311 V313 M491.5 312 V314 M492.5 311 V314 M493.5 312 V314 M494.5 312 V314 M495.5 307 V313 M496.5 304 V315 M497.5 308 V311 M498.5 310 V313 M499.5 312 V314 M500.5 313 V314 M501.5 312 V314 M502.5 312 V315 M503.5 313 V315 M504.5 313 V315 M505.5 313 V315 M506.5 312 V314 M507.5 312 V314 M508.5 312 V314 M509.5 312 V314 M510.5 311 V314 M511.5 312 V315 M512.5 312 V315 M513.5 312 V315 M514.5 313 V315 M515.5 313 V316 M516.5 314 V315 M517.5 314 V316 M518.5 313 V316 M519.5 312 V315 M520.5 312 V315 M521.5 312 V315 M522.5 312 V314 M523.5 313 V315 M524.5 313 V316 M525.5 314 V316 M526.5 313 V316 M527.5 313 V316 M528.5 314 V316 M529.5 313 V316 M530.5 313 V316 M531.5 313 V315 M532.5 312 V315 M533.5 313 V315 M534.5 313 V315 M535.5 312 V315 M536.5 313 V316 M537.5 314 V316 M538.5 314 V316 M539.5 313 V316 M540.5 313 V315 M541.5 313 V315 M542.5 312 V315 M543.5 313 V315 M544.5 313 V315 M545.5 313 V315 M546.5 313 V315 M547.5 314 V316 M548.5 314 V316 M549.5 313 V316 M550.5 313 V315 M551.5 313 V316 M552.5 313 V315 M553.5 313 V316 M554.5 313 V314 M555.5 312 V314 M556.5 311 V314 M557.5 311 V313 M558.5 310 V313 M559.5 309 V311 M560.5 308 V310"/>
<text transform="translate(32.699999999999996,24) scale(0.8000,1)" font-size="18" textLength="58.62" lengthAdjust="spacing">GOES</text>
<text transform="translate(89.80000000000001,24) scale(0.9500,1)" font-size="18" textLength="41.89" lengthAdjust="spacing">Xray</text>
<text transform="translate(140.4,24) scale(0.9500,1)" font-size="18" textLength="36.00" lengthAdjust="spacing">Flux</text>
<text transform="translate(186.0,24) scale(0.9484,1)" font-size="18" textLength="16.34" lengthAdjust="spacing">(1</text>
<text transform="translate(203.16,24) scale(3.5828,1)" font-size="18">-</text>
<text transform="translate(223.20000000000002,24) scale(1.0000,1)" font-size="18" textLength="59.10" lengthAdjust="spacing">minute</text>
<text transform="translate(293.09999999999997,24) scale(1.0103,1)" font-size="18" textLength="47.71" lengthAdjust="spacing">data)</text>
<text transform="translate(409.2,28.6) scale(0.9667,1)" font-size="14" textLength="45.41" lengthAdjust="spacing">Begin:</text>
<text transform="translate(467.4,28.6) scale(0.9992,1)" font-size="14" textLength="36.23" lengthAdjust="spacing">2019</text>
<text transform="translate(511.4,28.6) scale(0.9943,1)" font-size="14" textLength="25.35" lengthAdjust="spacing">Apr</text>
<text transform="translate(544.6999999999999,28.6) scale(1.0000,1)" font-size="14" textLength="16.20" lengthAdjust="spacing">18</text>
<text transform="translate(568.4,28.6) scale(0.9992,1)" font-size="14" textLength="36.23" lengthAdjust="spacing">0000</text>
<text transform="translate(613.4,28.6) scale(0.8000,1)" font-size="14" textLength="32.13" lengthAdjust="spacing">UTC</text>
<text transform="translate(0.5000000000000001,474.5) scale(0.9714,1)" font-size="14" textLength="60.22" lengthAdjust="spacing">Updated</text>
<text transform="translate(66.80000000000001,474.5) scale(0.9992,1)" font-size="14" textLength="36.23" lengthAdjust="spacing">2019</text>
<text transform="translate(111.0,474.5) scale(0.9333,1)" font-size="14" textLength="25.29" lengthAdjust="spacing">Apr</text>
<text transform="translate(142.1,474.5) scale(1.0000,1)" font-size="14" textLength="17.50" lengthAdjust="spacing">20</text>
<text transform="translate(168.8,474.5) scale(1.0101,1)" font-size="14" textLength="62.17" lengthAdjust="spacing">23:59:11</text>
<text transform="translate(240.4,474.5) scale(0.8000,1)" font-size="14" textLength="32.75" lengthAdjust="spacing">UTC</text>
<text transform="translate(425.2,474.8) scale(0.8222,1)" font-size="14" textLength="103.86" lengthAdjust="spacing">NOAA/SWPC</text>
<text transform="translate(519.8,474.8) scale(0.9750,1)" font-size="14" textLength="56.92" lengthAdjust="spacing">Boulder,</text>
<text transform="translate(585.1,474.8) scale(0.8000,1)" font-size="14" textLength="26.38" lengthAdjust="spacing">CO</text>
<text transform="translate(613.6,474.8) scale(0.8000,1)" font-size="14" textLength="32.50" lengthAdjust="spacing">USA</text>
<text transform="translate(268.0,453) scale(0.9778,1)" font-size="13" textLength="59.83" lengthAdjust="spacing">Universal</text>
<text transform="translate(334.5,453) scale(0.9500,1)" font-size="13" textLength="31.58" lengthAdjust="spacing">Time</text>
<text transform="translate(49.4,438) scale(0.9333,1)" font-size="14" textLength="24.00" lengthAdjust="spacing">Apr</text>
<text transform="translate(79.2,438) scale(0.9688,1)" font-size="14" textLength="15.90" lengthAdjust="spacing">18</text>
<text transform="translate(212.06666666666666,438) scale(0.9333,1)" font-size="14" textLength="24.00" lengthAdjust="spacing">Apr</text>
<text transform="translate(241.86666666666665,438) scale(0.9688,1)" font-size="14" textLength="15.90" lengthAdjust="spacing">19</text>
<text transform="translate(374.7333333333333,438) scale(0.9333,1)" font-size="14" textLength="24.00" lengthAdjust="spacing">Apr</text>
<text transform="translate(404.5333333333333,438) scale(0.9688,1)" font-size="14" textLength="15.90" lengthAdjust="spacing">20</text>
<text transform="translate(537.4,438) scale(0.9333,1)" font-size="14" textLength="24.00" lengthAdjust="spacing">Apr</text>
<text transform="translate(567.2,438) scale(0.9688,1)" font-size="14" textLength="15.90" lengthAdjust="spacing">21</text>
<text transform="translate(40.6,44) scale(1.0000,1)" font-size="13.5" textLength="15.40" lengthAdjust="spacing">10</text>
<text transform="translate(56.12,38) scale(2.3529,1)" font-size="8.5">-</text>
<text transform="translate(62.58,38) scale(1.2772,1)" font-size="8.5">2</text>
<text transform="translate(40.6,95.35714285714286) scale(1.0000,1)" font-size="13.5" textLength="15.40" lengthAdjust="spacing">10</text>
<text transform="translate(56.12,89.35714285714286) scale(2.3529,1)" font-size="8.5">-</text>
<text transform="translate(62.58,89.35714285714286) scale(1.2772,1)" font-size="8.5">3</text>
<text transform="translate(40.6,150.21428571428572) scale(1.0000,1)" font-size="13.5" textLength="15.40" lengthAdjust="spacing">10</text>
<text transform="translate(56.12,144.21428571428572) scale(2.3529,1)" font-size="8.5">-</text>
<text transform="translate(62.58,144.21428571428572) scale(1.2772,1)" font-size="8.5">4</text>
<text transform="translate(40.6,205.07142857142856) scale(1.0000,1)" font-size="13.5" textLength="15.40" lengthAdjust="spacing">10</text>
<text transform="translate(56.12,199.07142857142856) scale(2.3529,1)" font-size="8.5">-</text>
<text transform="translate(62.58,199.07142857142856) scale(1.2772,1)" font-size="8.5">5</text>
<text transform="translate(40.6,259.92857142857144) scale(1.0000,1)" font-size="13.5" textLength="15.40" lengthAdjust="spacing">10</text>
<text transform="translate(56.12,253.92857142857144) scale(2.3529,1)" font-size="8.5">-</text>
<text transform="translate(62.58,253.92857142857144) scale(1.2772,1)" font-size="8.5">6</text>
<text transform="translate(40.6,314.7857142857143) scale(1.0000,1)" font-size="13.5" textLength="15.40" lengthAdjust="spacing">10</text>
<text transform="translate(56.12,308.7857142857143) scale(2.3529,1)" font-size="8.5">-</text>
<text transform="translate(62.58,308.7857142857143) scale(1.2772,1)" font-size="8.5">7</text>
<text transform="translate(40.6,369.6428571428571) scale(1.0000,1)" font-size="13.5" textLength="15.40" lengthAdjust="spacing">10</text>
<text transform="translate(56.12,363.6428571428571) scale(2.3529,1)" font-size="8.5">-</text>
<text transform="translate(62.58,363.6428571428571) scale(1.2772,1)" font-size="8.5">8</text>
<text transform="translate(40.6,420) scale(1.0000,1)" font-size="13.5" textLength="15.40" lengthAdjust="spacing">10</text>
<text transform="translate(56.12,414) scale(2.3529,1)" font-size="8.5">-</text>
<text transform="translate(62.58,414) scale(1.2772,1)" font-size="8.5">9</text>
<text x="562" y="339" font-size="13" class="ser">A</text>
<text x="562" y="284" font-size="13" class="ser">B</text>
<text x="562" y="229" font-size="13" class="ser">C</text>
<text x="562" y="174" font-size="13" class="ser">M</text>
<text x="562" y="119.5" font-size="13" class="ser">X</text>
<text transform="translate(596.5,239.5) rotate(-90) scale(0.8667,1)" font-size="16" textLength="69.69" lengthAdjust="spacing" fill="#ff0000">GOES15</text>
<text transform="translate(596.5,170.1) rotate(-90) scale(1.0000,1)" font-size="16" textLength="24.10" lengthAdjust="spacing" fill="#ff0000">1.0</text>
<text transform="translate(596.5,144.93) rotate(-90) scale(3.0230,1)" font-size="16" fill="#ff0000">-</text>
<text transform="translate(596.5,130.79999999999998) rotate(-90) scale(1.0000,1)" font-size="16" textLength="23.60" lengthAdjust="spacing" fill="#ff0000">8.0</text>
<text transform="translate(596.5,97.90) rotate(-90) scale(0.8621,1)" font-size="16" fill="#ff0000">A</text>
<text transform="translate(622,239.5) rotate(-90) scale(0.8667,1)" font-size="16" textLength="69.69" lengthAdjust="spacing" fill="#ffa500">GOES14</text>
<text transform="translate(622,170.1) rotate(-90) scale(1.0000,1)" font-size="16" textLength="24.10" lengthAdjust="spacing" fill="#ffa500">1.0</text>
<text transform="translate(622,144.93) rotate(-90) scale(3.0230,1)" font-size="16" fill="#ffa500">-</text>
<text transform="translate(622,130.79999999999998) rotate(-90) scale(1.0000,1)" font-size="16" textLength="23.60" lengthAdjust="spacing" fill="#ffa500">8.0</text>
<text transform="translate(622,97.90) rotate(-90) scale(0.8621,1)" font-size="16" fill="#ffa500">A</text>
<text transform="translate(596.5,417.3) rotate(-90) scale(0.8667,1)" font-size="16" textLength="69.69" lengthAdjust="spacing" fill="#0028ff">GOES15</text>
<text transform="translate(596.5,347.9) rotate(-90) scale(1.0000,1)" font-size="16" textLength="24.10" lengthAdjust="spacing" fill="#0028ff">0.5</text>
<text transform="translate(596.5,322.73) rotate(-90) scale(3.0230,1)" font-size="16" fill="#0028ff">-</text>
<text transform="translate(596.5,308.6) rotate(-90) scale(1.0000,1)" font-size="16" textLength="23.60" lengthAdjust="spacing" fill="#0028ff">4.0</text>
<text transform="translate(596.5,275.70) rotate(-90) scale(0.8621,1)" font-size="16" fill="#0028ff">A</text>
<text transform="translate(622,417.3) rotate(-90) scale(0.8667,1)" font-size="16" textLength="69.69" lengthAdjust="spacing" fill="#5a00aa">GOES14</text>
<text transform="translate(622,347.9) rotate(-90) scale(1.0000,1)" font-size="16" textLength="24.10" lengthAdjust="spacing" fill="#5a00aa">0.5</text>
<text transform="translate(622,322.73) rotate(-90) scale(3.0230,1)" font-size="16" fill="#5a00aa">-</text>
<text transform="translate(622,308.6) rotate(-90) scale(1.0000,1)" font-size="16" textLength="23.60" lengthAdjust="spacing" fill="#5a00aa">4.0</text>
<text transform="translate(622,275.70) rotate(-90) scale(0.8621,1)" font-size="16" fill="#5a00aa">A</text>
<text transform="translate(24,263.1) rotate(-90) scale(0.9600,1)" font-size="18" textLength="52.71" lengthAdjust="spacing">Watts</text>
<text transform="translate(24,202.90) rotate(-90) scale(0.8867,1)" font-size="18">m</text>
<text transform="translate(15,187.46) rotate(-90) scale(1.8659,1)" font-size="10.5">-</text>
<text transform="translate(15,181.04) rotate(-90) scale(1.0745,1)" font-size="10.5">2</text>
</svg></body></html>
